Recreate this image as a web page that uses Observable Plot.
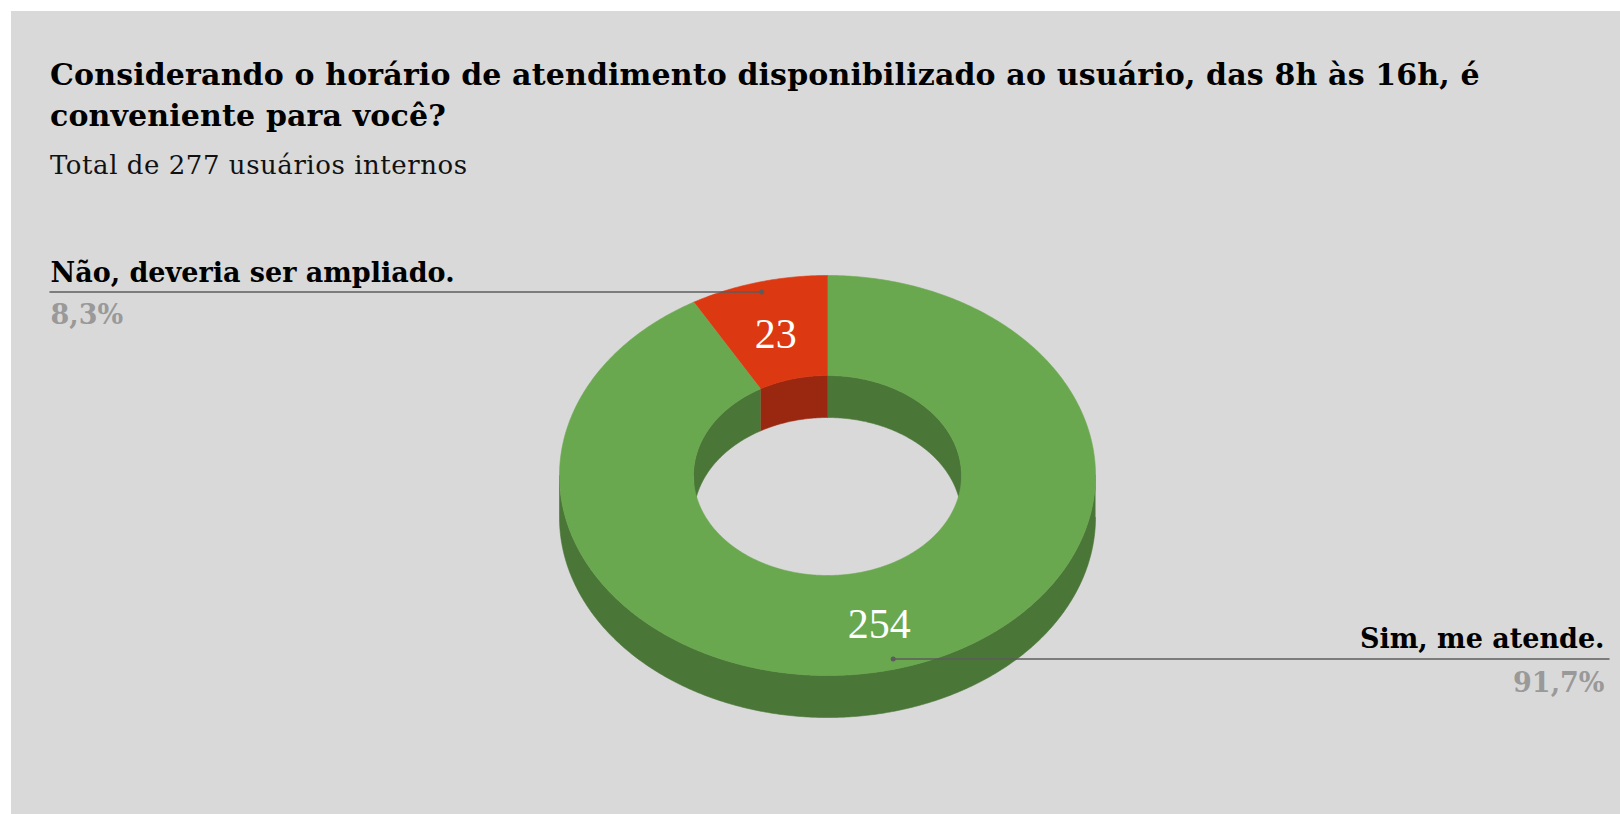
<!DOCTYPE html>
<html>
<head>
<meta charset="utf-8">
<script src="https://cdn.jsdelivr.net/npm/d3@7"></script>
<script src="https://cdn.jsdelivr.net/npm/@observablehq/plot@0.6"></script>
<style>
  html, body { margin: 0; padding: 0; background: #ffffff; }
  #panel { position: absolute; left: 11px; top: 11px; width: 1609px; height: 803px; background: #d9d9d9; overflow: hidden; }
  #title { position: absolute; left: 39px; top: 43px; font-family: "DejaVu Serif", serif; font-weight: bold; font-size: 30px; letter-spacing: 0.15px; line-height: 41px; color: #000; white-space: nowrap; }
  #subtitle { position: absolute; left: 39px; top: 139px; font-family: "DejaVu Serif", serif; font-size: 26px; letter-spacing: 0.55px; line-height: 30px; color: #111; white-space: nowrap; }
  #chart { position: absolute; left: 0; top: 180px; }
</style>
</head>
<body>
<div id="panel">
  <div id="title">Considerando o horário de atendimento disponibilizado ao usuário, das 8h às 16h, é<br>conveniente para você?</div>
  <div id="subtitle">Total de 277 usuários internos</div>
  <div id="chart"></div>
</div>
<script>
// ---- data ----
const categories = ["Sim, me atende.", "Não, deveria ser ampliado."];
const counts = [254, 23];
const topColors = ["#6aa84f", "#dc3912"];
const sideColors = ["#4a7637", "#9a2710"];

// ---- layout constants (pixels / ratios) ----
const W = 1609, H = 623;
const ML = 39, MR = 16;
const CX = 816, CY = 284, RX = 268, RY = 200;
const INNER = 0.5, DEPTH = 0.21, LABEL_R = 0.75, DOT_R = 0.95;
const SERIF = "DejaVu Serif, serif";
const leftEdge = (ML - 1 - CX) / RX;          // leader line start (x units)
const rightEdge = (W - MR + 5 - CX) / RX;     // leader line end (x units)

const total = d3.sum(counts);
const rows = categories.map((c, i) => ({category: c, count: counts[i], top: topColors[i], side: sideColors[i]}));
const arcs = d3.pie().sort(null).value(d => d.count).startAngle(0).endAngle(2 * Math.PI)(rows);

function arcPts(a0, a1, r, dy = 0) {
  const n = Math.max(2, Math.ceil(Math.abs(a1 - a0) / (Math.PI / 360)));
  return d3.range(n + 1).map(i => {
    const a = a0 + (a1 - a0) * i / n;
    return {x: r * Math.sin(a), y: r * Math.cos(a) + dy};
  });
}
function intersect(a0, a1, b0, b1) {
  const s = Math.max(a0, b0), e = Math.min(a1, b1);
  return s < e ? [s, e] : null;
}

const outerWalls = [], innerWalls = [], topFaces = [];
arcs.forEach((a, i) => {
  const d = a.data;
  // top face
  arcPts(a.startAngle, a.endAngle, 1).concat(arcPts(a.endAngle, a.startAngle, INNER))
    .forEach(p => topFaces.push({...p, id: "top" + i, fill: d.top}));
  // outer (front) wall
  const f = intersect(a.startAngle, a.endAngle, Math.PI / 2, 3 * Math.PI / 2);
  if (f) arcPts(f[0], f[1], 1).concat(arcPts(f[1], f[0], 1, -DEPTH))
    .forEach(p => outerWalls.push({...p, id: "outer" + i, fill: d.side}));
  // inner (back) wall
  [[0, Math.PI / 2], [3 * Math.PI / 2, 2 * Math.PI]].forEach((r, k) => {
    const b = intersect(a.startAngle, a.endAngle, r[0], r[1]);
    if (b) arcPts(b[0], b[1], INNER).concat(arcPts(b[1], b[0], INNER, -DEPTH))
      .forEach(p => innerWalls.push({...p, id: "inner" + i + "_" + k, fill: d.side}));
  });
});

const slices = arcs.map(a => {
  const mid = (a.startAngle + a.endAngle) / 2;
  const pct = (a.data.count / total * 100).toFixed(1).replace(".", ",") + "%";
  const side = Math.sin(mid) < 0 ? "left" : "right";
  const dx = DOT_R * Math.sin(mid), dy = DOT_R * Math.cos(mid);
  return {
    category: a.data.category, count: a.data.count, pct,
    lx: LABEL_R * Math.sin(mid), ly: LABEL_R * Math.cos(mid),
    dx, dy, side,
    x1: side === "left" ? leftEdge : dx,
    x2: side === "left" ? dx : rightEdge
  };
});
const leftS = slices.filter(s => s.side === "left");
const rightS = slices.filter(s => s.side === "right");

const poly = data => Plot.line(data, {x: "x", y: "y", z: "id", fill: "fill", stroke: "fill", strokeWidth: 0.6, curve: "linear"});

const chart = Plot.plot({
  width: W, height: H,
  marginLeft: ML, marginRight: MR, marginTop: 0, marginBottom: 0,
  x: {domain: [-1, 1], range: [CX - RX, CX + RX], axis: null},
  y: {domain: [-1, 1], range: [CY + RY, CY - RY], axis: null},
  color: {type: "identity"},
  style: {background: "transparent", fontFamily: SERIF, overflow: "visible"},
  marks: [
    poly(outerWalls),
    poly(innerWalls),
    poly(topFaces),
    Plot.text(slices, {x: "lx", y: "ly", text: d => String(d.count), fill: "#ffffff", fontSize: 42, fontFamily: "Liberation Serif, serif", dy: 4}),
    Plot.link(slices, {x1: "x1", x2: "x2", y1: "dy", y2: "dy", stroke: "#5c5c5c", strokeWidth: 1.6}),
    Plot.dot(slices, {x: "dx", y: "dy", r: 2.5, fill: "#5c5c5c", stroke: null}),
    Plot.text(leftS, {y: "dy", text: "category", frameAnchor: "left", textAnchor: "start", lineAnchor: "bottom", dy: -10, fontSize: 27, fontWeight: "bold", fill: "#000", fontFamily: SERIF}),
    Plot.text(leftS, {y: "dy", text: "pct", frameAnchor: "left", textAnchor: "start", lineAnchor: "bottom", dy: 32, fontSize: 27, fontWeight: "bold", fill: "#999999", fontFamily: SERIF}),
    Plot.text(rightS, {y: "dy", text: "category", frameAnchor: "right", textAnchor: "end", lineAnchor: "bottom", dy: -11, fontSize: 27, fontWeight: "bold", fill: "#000", fontFamily: SERIF}),
    Plot.text(rightS, {y: "dy", text: "pct", frameAnchor: "right", textAnchor: "end", lineAnchor: "bottom", dy: 33, fontSize: 27, fontWeight: "bold", fill: "#999999", fontFamily: SERIF})
  ]
});
document.getElementById("chart").appendChild(chart);
</script>
</body>
</html>
